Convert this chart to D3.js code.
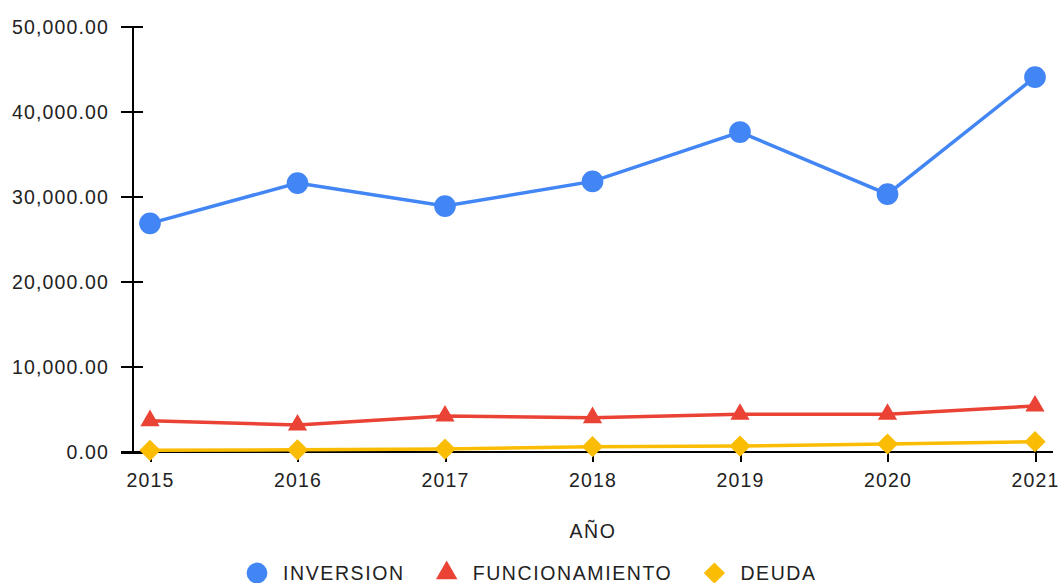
<!DOCTYPE html>
<html>
<head>
<meta charset="utf-8">
<script src="https://cdn.jsdelivr.net/npm/d3@7"></script>
<style>
  body { margin: 0; background: #fff; }
  text { font-family: "Liberation Sans", Arial, sans-serif; fill: #222; }
</style>
</head>
<body>
<div id="chart"></div>
<script>
var years = ["2015", "2016", "2017", "2018", "2019", "2020", "2021"];
var inversion = [26870, 31600, 28900, 31800, 37600, 30300, 44050];
var funcionamiento = [3680, 3170, 4230, 4030, 4430, 4430, 5400];
var deuda = [200, 250, 350, 620, 700, 940, 1210];
var yTicks = [0, 10000, 20000, 30000, 40000, 50000];

var SERIES = [
  {name: "INVERSION", values: inversion, color: "#4285F4", shape: d3.symbolCircle, size: 370, rot: 0},
  {name: "FUNCIONAMIENTO", values: funcionamiento, color: "#EA4335", shape: d3.symbolTriangle, size: 160, rot: 0},
  {name: "DEUDA", values: deuda, color: "#FBBC04", shape: d3.symbolSquare, size: 225, rot: 45}
];

var W = 1060, H = 583;
var svg = d3.select("#chart").append("svg")
  .attr("width", W)
  .attr("height", H);

var x = d3.scalePoint().domain(years).range([150, 1035]);
var y = d3.scaleLinear().domain([0, 50000]).range([452, 26.5]);
var fmt = d3.format(",.2f");

// y axis
var yAxis = svg.append("g")
  .attr("transform", "translate(132,0)")
  .call(d3.axisLeft(y).tickValues(yTicks).tickFormat(fmt).tickSize(0).tickPadding(23));
yAxis.select(".domain").attr("stroke", "#000").attr("stroke-width", 2);
yAxis.selectAll(".tick line").attr("x1", -11).attr("x2", 11).attr("stroke", "#000").attr("stroke-width", 2);
yAxis.selectAll(".tick text").style("font-size", "19.5px").style("letter-spacing", "1.15px").attr("dy", "0.35em");

// x axis
var xAxis = svg.append("g")
  .attr("transform", "translate(0,452)")
  .call(d3.axisBottom(x).tickSize(0).tickPadding(21));
xAxis.select(".domain").attr("d", "M121,0H1053").attr("stroke", "#000").attr("stroke-width", 2);
xAxis.selectAll(".tick line").attr("y1", -10).attr("y2", 10).attr("stroke", "#000").attr("stroke-width", 2);
xAxis.selectAll(".tick text").style("font-size", "19.5px").style("letter-spacing", "1.15px").attr("dy", "0.71em");
svg.selectAll(".domain, .tick line").attr("shape-rendering", "crispEdges");

svg.append("text")
  .attr("x", 593)
  .attr("y", 538)
  .attr("text-anchor", "middle")
  .style("font-size", "19.5px")
  .style("letter-spacing", "1.5px")
  .text("AÑO");

var line = d3.line()
  .x(function(d, i){ return x(years[i]); })
  .y(function(d){ return y(d); });

// draw bottom series first so INVERSION is on top
SERIES.slice().reverse().forEach(function(s){
  var g = svg.append("g");
  g.append("path")
    .attr("d", line(s.values))
    .attr("fill", "none")
    .attr("stroke", s.color)
    .attr("stroke-width", 3.5);
  g.selectAll("path.pt")
    .data(s.values)
    .enter().append("path")
    .attr("class", "pt")
    .attr("transform", function(d, i){
      return "translate(" + x(years[i]) + "," + y(d) + ") rotate(" + s.rot + ")";
    })
    .attr("d", d3.symbol().type(s.shape).size(s.size))
    .attr("fill", s.color);
});

// legend
var legend = svg.append("g").attr("transform", "translate(0,573)");
var lx = 257;
SERIES.forEach(function(s){
  legend.append("path")
    .attr("transform", "translate(" + lx + ",0) rotate(" + s.rot + ")")
    .attr("d", d3.symbol().type(s.shape).size(s.shape === d3.symbolCircle ? 340 : (s.rot ? 225 : 200)))
    .attr("fill", s.color);
  var t = legend.append("text")
    .attr("x", lx + 26)
    .attr("y", 0)
    .attr("dy", "0.35em")
    .style("font-size", "19.5px")
    .style("letter-spacing", "1.6px")
    .text(s.name);
  lx += 26 + t.node().getComputedTextLength() + 42;
});
</script>
</body>
</html>
